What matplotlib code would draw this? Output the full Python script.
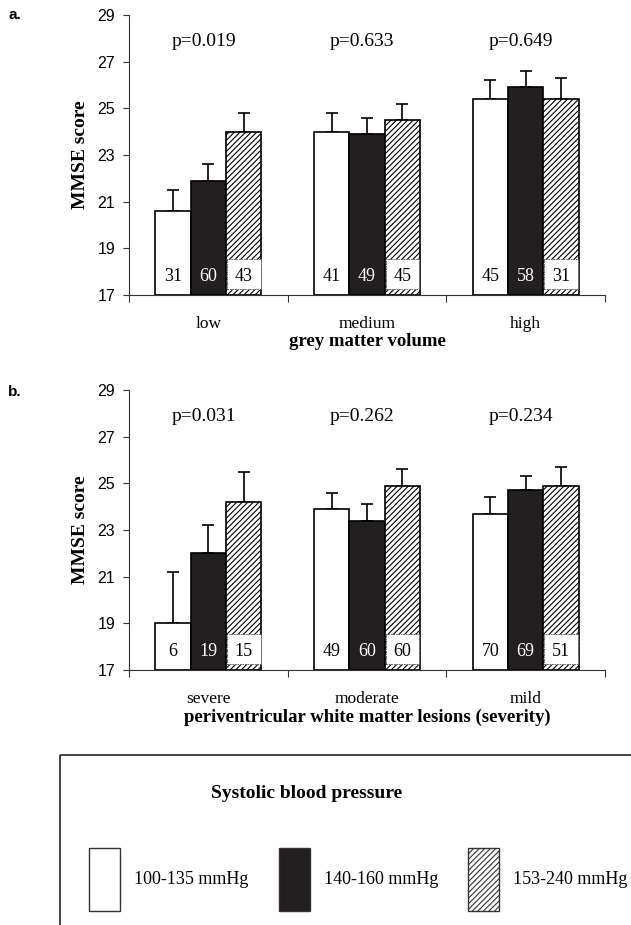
import matplotlib.pyplot as plt
import numpy as np
from matplotlib.patches import Rectangle

# dane
groups_a = ['low', 'medium', 'high']
groups_b = ['severe', 'moderate', 'mild']
series = ['100-135 mmHg', '140-160 mmHg', '153-240 mmHg']

mean_a = [[20.6, 24.0, 25.4], [21.9, 23.9, 25.9], [24.0, 24.5, 25.4]]
upper_a = [[21.5, 24.8, 26.2], [22.6, 24.6, 26.6], [24.8, 25.2, 26.3]]
n_a = [[31, 41, 45], [60, 49, 58], [43, 45, 31]]
p_a = ['p=0.019', 'p=0.633', 'p=0.649']

mean_b = [[19.0, 23.9, 23.7], [22.0, 23.4, 24.7], [24.2, 24.9, 24.9]]
upper_b = [[21.2, 24.6, 24.4], [23.2, 24.1, 25.3], [25.5, 25.6, 25.7]]
n_b = [[6, 49, 70], [19, 60, 69], [15, 60, 51]]
p_b = ['p=0.031', 'p=0.262', 'p=0.234']

serif = 'Liberation Serif'
sans = 'Liberation Sans'
plt.rcParams['hatch.color'] = '#444444'
plt.rcParams['hatch.linewidth'] = 0.8

fig = plt.figure(figsize=(6.31, 9.25), dpi=100)

W = 0.223
offs = [-W, 0, W]
faces = ['white', '#231f20', 'white']
hatches = [None, None, '//////']
txt_col = ['black', 'white', 'black']


def panel(ax, groups, mean, upper, counts, pvals, xlabel):
    x = np.arange(len(groups))
    for i in range(3):
        xi = x + offs[i]
        m = np.array(mean[i])
        u = np.array(upper[i])
        ax.bar(xi, m - 17, bottom=17, width=W, color=faces[i], hatch=hatches[i],
               edgecolor='black', linewidth=1.2, zorder=2)
        ax.errorbar(xi, m, yerr=[np.zeros(3), u - m], fmt='none', ecolor='black',
                    elinewidth=1.2, capsize=4.5, capthick=1.2, zorder=1)
        if hatches[i]:
            ax.bar(xi, 1.3, bottom=17.25, width=W * 0.95, color='white',
                   edgecolor='#555555', linestyle=(0, (2, 1)), linewidth=0.6, zorder=3)
        for xx, c in zip(xi, counts[i]):
            ax.text(xx, 17.8, str(c), ha='center', va='center', color=txt_col[i],
                    fontsize=13, family=serif, zorder=4)
    for xx, p in zip(x, pvals):
        ax.text(xx - 0.03, 27.85, p, ha='center', va='center', fontsize=14, family=serif)
    ax.set_ylim(17, 29)
    ax.set_xlim(-0.5, 2.5)
    ax.set_yticks(range(17, 30, 2))
    ax.set_xticks([-0.5, 0.5, 1.5, 2.5])
    ax.set_xticklabels([])
    ax.set_xticks(x, minor=True)
    ax.set_xticklabels(groups, minor=True, fontsize=12.5, family=serif)
    ax.tick_params(axis='x', which='minor', length=0, pad=15)
    ax.tick_params(axis='x', which='major', length=5, direction='out', color='#333333')
    ax.tick_params(axis='y', length=4, pad=6, labelsize=11.5, color='#333333')
    for lab in ax.get_yticklabels():
        lab.set_family(sans)
    ax.spines['top'].set_visible(False)
    ax.spines['right'].set_visible(False)
    ax.spines['left'].set_color('#333333')
    ax.spines['bottom'].set_color('#333333')
    ax.set_ylabel('MMSE score', fontsize=14, family=serif, fontweight='bold', labelpad=6)
    ax.set_xlabel(xlabel, fontsize=13.5, family=serif, fontweight='bold', labelpad=1)


ax1 = fig.add_axes([0.2044, 0.6811, 0.7544, 0.3027])
panel(ax1, groups_a, mean_a, upper_a, n_a, p_a, 'grey matter volume')
ax2 = fig.add_axes([0.2044, 0.2757, 0.7544, 0.3027])
panel(ax2, groups_b, mean_b, upper_b, n_b, p_b, 'periventricular white matter lesions (severity)')

fig.text(0.013, 0.984, 'a.', fontsize=11, fontweight='bold', family=sans, va='center')
fig.text(0.013, 0.576, 'b.', fontsize=11, fontweight='bold', family=sans, va='center')

# legenda w ramce
lax = fig.add_axes([0, 0, 1, 1], facecolor='none')
lax.set_xlim(0, 631)
lax.set_ylim(925, 0)
lax.axis('off')
lax.add_patch(Rectangle((60, 755), 600, 200, fill=False, edgecolor='#222222', linewidth=1.2))
lax.text(307, 794, 'Systolic blood pressure', ha='center', va='center', fontsize=14,
         family=serif, fontweight='bold')
for i, (lx, lab) in enumerate(zip([89, 279, 468], series)):
    lax.add_patch(Rectangle((lx, 848), 31, 63, facecolor=faces[i], hatch=hatches[i],
                            edgecolor='#333333', linewidth=1.0))
    lax.text(lx + 45, 880, lab, ha='left', va='center', fontsize=13, family=serif)

fig.savefig('out.png', dpi=100)
